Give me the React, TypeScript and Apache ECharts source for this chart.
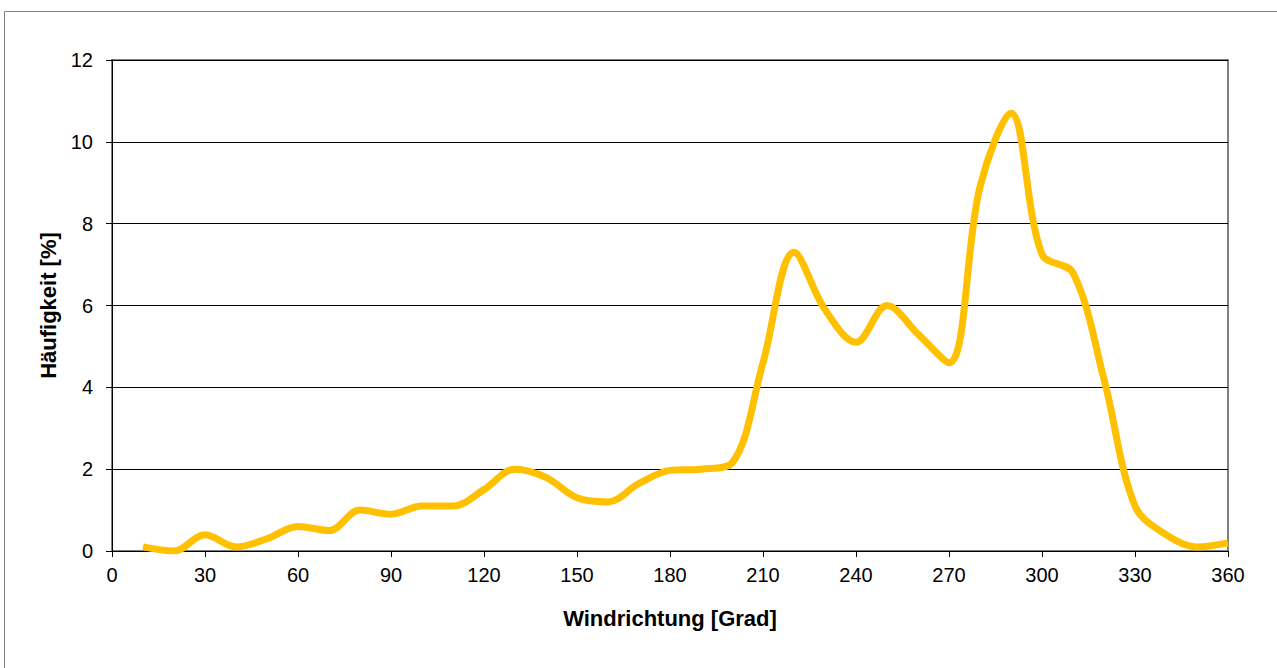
import React, { useEffect, useRef } from "react";
import * as echarts from "echarts";

const directions = [10, 20, 30, 40, 50, 60, 70, 80, 90, 100, 110, 120, 130, 140, 150, 160, 170, 180, 190, 200, 210, 220, 230, 240, 250, 260, 270, 280, 290, 300, 310, 320, 330, 340, 350, 360];
const frequency = [0.1, 0.0, 0.4, 0.1, 0.3, 0.6, 0.5, 1.0, 0.9, 1.1, 1.1, 1.5, 2.0, 1.8, 1.3, 1.2, 1.65, 1.97, 2.0, 2.15, 4.6, 7.3, 5.9, 5.1, 6.0, 5.3, 4.6, 8.9, 10.7, 7.25, 6.8, 4.2, 1.1, 0.4, 0.1, 0.2];
const xAxisTitle = "Windrichtung [Grad]";
const yAxisTitle = "Häufigkeit [%]";

export default function App() {
  const ref = useRef<HTMLDivElement>(null);
  useEffect(() => {
    if (!ref.current) return;
    const chart = echarts.init(ref.current, undefined, { renderer: "svg" });
    const font = "Liberation Sans, Arial, sans-serif";
    chart.setOption({
      animation: false,
      backgroundColor: "#ffffff",
      graphic: [
        {
          type: "rect",
          shape: { x: 4.5, y: 11.5, width: 1300, height: 700 },
          style: { fill: "none", stroke: "#808080", lineWidth: 1 },
          silent: true,
          z: -10,
        },
      ],
      grid: {
        left: 112,
        top: 60,
        right: 49,
        bottom: 117,
        show: true,
        borderColor: "#808080",
        borderWidth: 2,
        backgroundColor: "transparent",
      },
      xAxis: {
        type: "value",
        min: 0,
        max: 360,
        interval: 30,
        name: xAxisTitle,
        nameLocation: "middle",
        nameGap: 56,
        nameTextStyle: { fontFamily: font, fontSize: 22, fontWeight: "bold", color: "#000" },
        axisLine: { show: true, onZero: false, lineStyle: { color: "#000", width: 1 } },
        axisTick: { show: true, length: 6, lineStyle: { color: "#000" } },
        axisLabel: { fontFamily: font, fontSize: 20, color: "#000", margin: 14 },
        splitLine: { show: false },
      },
      yAxis: {
        type: "value",
        min: 0,
        max: 12,
        interval: 2,
        name: yAxisTitle,
        nameLocation: "middle",
        nameGap: 46,
        nameTextStyle: { fontFamily: font, fontSize: 22, fontWeight: "bold", color: "#000" },
        axisLine: { show: true, lineStyle: { color: "#000", width: 1 } },
        axisTick: { show: true, length: 6, lineStyle: { color: "#000" } },
        axisLabel: { fontFamily: font, fontSize: 20, color: "#000", margin: 19 },
        splitLine: { show: true, lineStyle: { color: "#000", width: 1 } },
      },
      series: [
        {
          type: "line",
          data: directions.map((d, i) => [d, frequency[i]]),
          smooth: 0.35,
          symbol: "none",
          lineStyle: { color: "#FFC000", width: 7 },
          z: 5,
        },
      ],
    });
    return () => chart.dispose();
  }, []);
  return <div ref={ref} style={{ position: "absolute", left: 0, top: 0, width: 1277, height: 668 }} />;
}
